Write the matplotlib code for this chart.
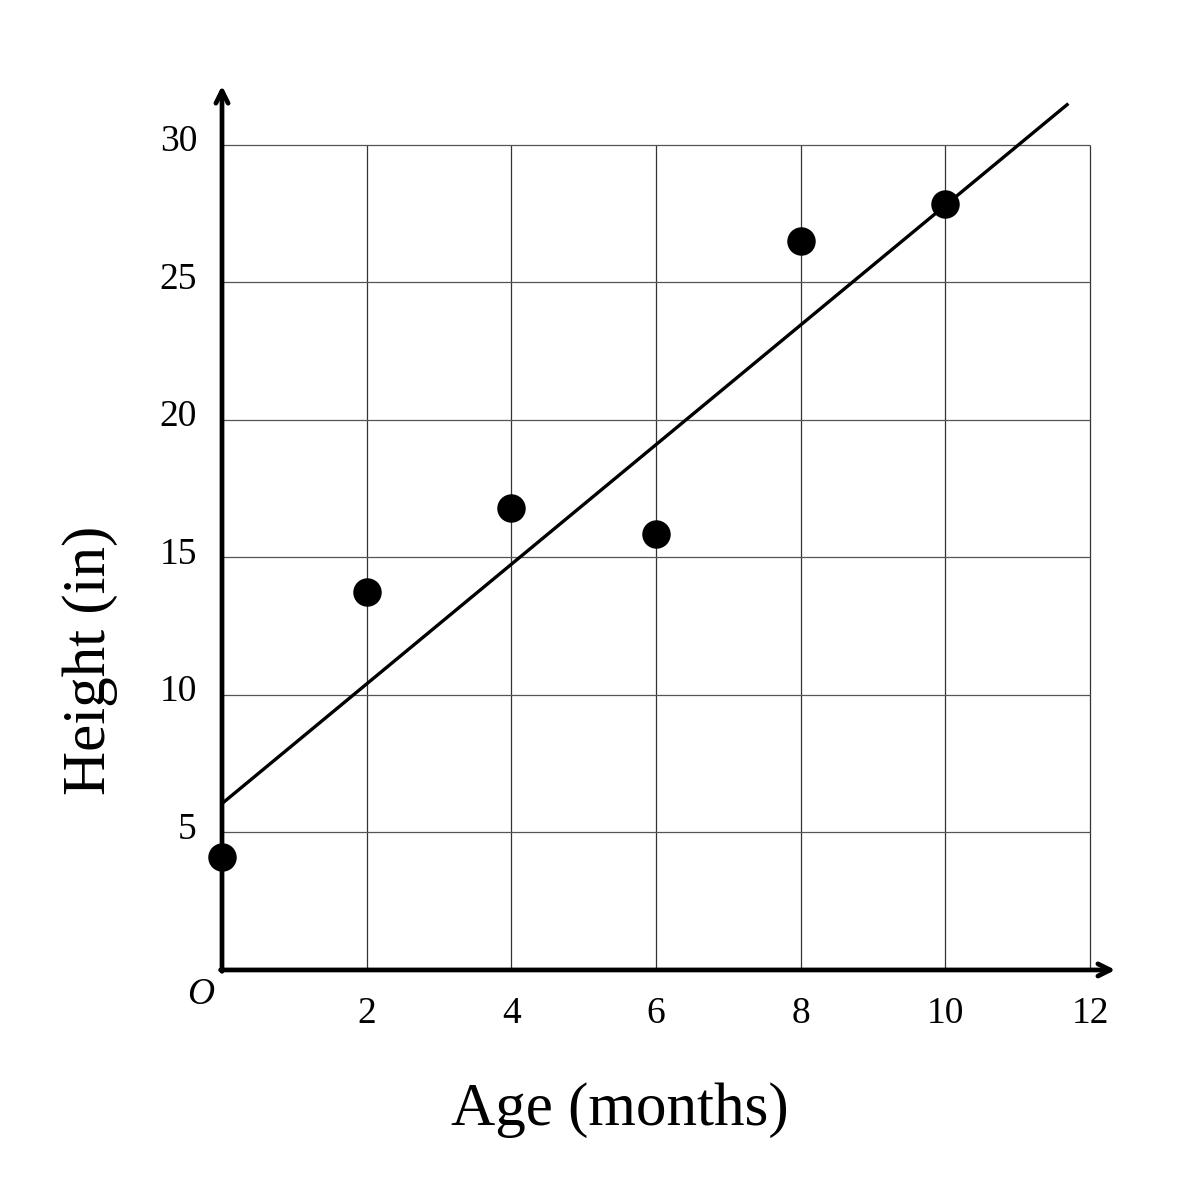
import matplotlib
matplotlib.use("Agg")
import matplotlib.pyplot as plt
from matplotlib.transforms import ScaledTranslation

plt.rcParams['font.family'] = ['Liberation Serif', 'DejaVu Serif']

age = [0, 2, 4, 6, 8, 10]
height = [4.1, 13.75, 16.8, 15.85, 26.5, 27.85]
fit_x = [0, 11.7]
fit_y = [6.05, 31.5]
xticks = [2, 4, 6, 8, 10, 12]
xtick_labels = ['2', '4', '6', '8', '10', '12']
yticks = [5, 10, 15, 20, 25, 30]
ytick_labels = ['5', '10', '15', '20', '25', '30']

fig = plt.figure(figsize=(12, 12), dpi=100)
ax = fig.add_axes([0.185, 0.1917, 0.7475, 0.738])
ax.set_xlim(0, 12.4)
ax.set_ylim(0, 32.2)
for s in ax.spines.values():
    s.set_visible(False)

# grid limited to the data region
ax.vlines(xticks, 0, 30, color='#333333', lw=0.9, zorder=1)
ax.hlines(yticks, 0, 12, color='#555555', lw=0.9, zorder=1)

# axes with arrows
ax.annotate('', xy=(0, 32.15), xytext=(0, -0.05),
            arrowprops=dict(arrowstyle='->', lw=3.4, color='black', mutation_scale=22,
                            shrinkA=0, shrinkB=0), annotation_clip=False, zorder=3)
ax.annotate('', xy=(12.35, 0), xytext=(-0.02, 0),
            arrowprops=dict(arrowstyle='->', lw=3.4, color='black', mutation_scale=22,
                            shrinkA=0, shrinkB=0), annotation_clip=False, zorder=3)

ax.plot(fit_x, fit_y, color='black', lw=2.4, zorder=4, clip_on=False, solid_capstyle='butt')
ax.scatter(age, height, s=420, color='black', zorder=5, clip_on=False, linewidths=0)

ax.set_xticks(xticks)
ax.set_xticklabels(xtick_labels, fontsize=27)
ax.set_yticks(yticks)
ax.set_yticklabels(ytick_labels, fontsize=27)
ax.tick_params(axis='x', length=0, pad=19)
ax.tick_params(axis='y', length=0, pad=18)
up = ScaledTranslation(0, 5 / 72, fig.dpi_scale_trans)
for lab in ax.get_yticklabels():
    lab.set_transform(lab.get_transform() + up)

ax.text(-0.3, -0.9, 'O', fontsize=27, style='italic', ha='center', va='center')

fig.text(620 / 1200, 1 - 1110 / 1200, 'Age (months)', fontsize=44, ha='center', va='center')
fig.text(90 / 1200, 1 - 660 / 1200, 'Height (in)', fontsize=44, ha='center', va='center',
         rotation=90)

fig.savefig('out.png', dpi=100, facecolor='white')
